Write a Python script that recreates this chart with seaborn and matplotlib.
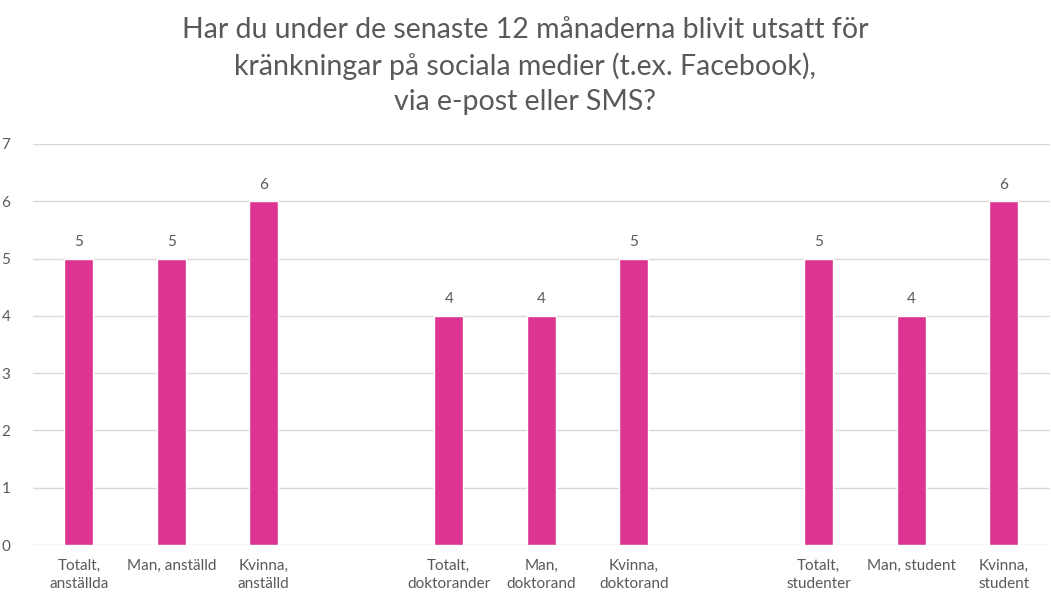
import numpy as np
import pandas as pd
import matplotlib
matplotlib.use("Agg")
import matplotlib.pyplot as plt
import seaborn as sns

# categories (blank slots separate the three groups)
labels = ["Totalt,\nanställda", "Man, anställd", "Kvinna,\nanställd", " ",
          "Totalt,\ndoktorander", "Man,\ndoktorand", "Kvinna,\ndoktorand", "  ",
          "Totalt,\nstudenter", "Man, student", "Kvinna,\nstudent"]
values = [5, 5, 6, np.nan, 4, 4, 5, np.nan, 5, 4, 6]

title = ("Har du under de senaste 12 månaderna blivit utsatt för\n"
         "kränkningar på sociala medier (t.ex. Facebook),\n"
         "via e-post eller SMS?")

df = pd.DataFrame({"grupp": labels, "andel": values})

sns.set_style("white")
plt.rcParams["font.family"] = ["Lato", "DejaVu Sans"]

grey = "#595959"
fig = plt.figure(figsize=(10.51, 5.95), dpi=100)
ax = fig.add_axes([0.031, 0.084, 0.968, 0.674])

sns.barplot(data=df.dropna(), x="grupp", y="andel", order=labels,
            color="#DC3490", width=0.31, saturation=1, ax=ax)

for c in ax.containers:
    ax.bar_label(c, fmt="%g", padding=7, fontsize=11, color=grey)

ax.set_xlim(-0.5, len(labels) - 0.5)
ax.set_ylim(0, 7)
ax.set_yticks(range(0, 8))
ax.yaxis.grid(True, color="#D9D9D9", linewidth=1)
ax.set_axisbelow(True)
for s in ax.spines.values():
    s.set_visible(False)
ax.tick_params(axis="both", length=0, labelsize=11, colors=grey)
ax.tick_params(axis="x", pad=10)
ax.tick_params(axis="y", pad=16)
for t in ax.get_xticklabels():
    t.set_linespacing(1.35)
ax.set_xlabel("")
ax.set_ylabel("")

fig.suptitle(title, y=0.972, fontsize=20.5, color=grey, linespacing=1.42)

fig.savefig("out.png", dpi=100)
